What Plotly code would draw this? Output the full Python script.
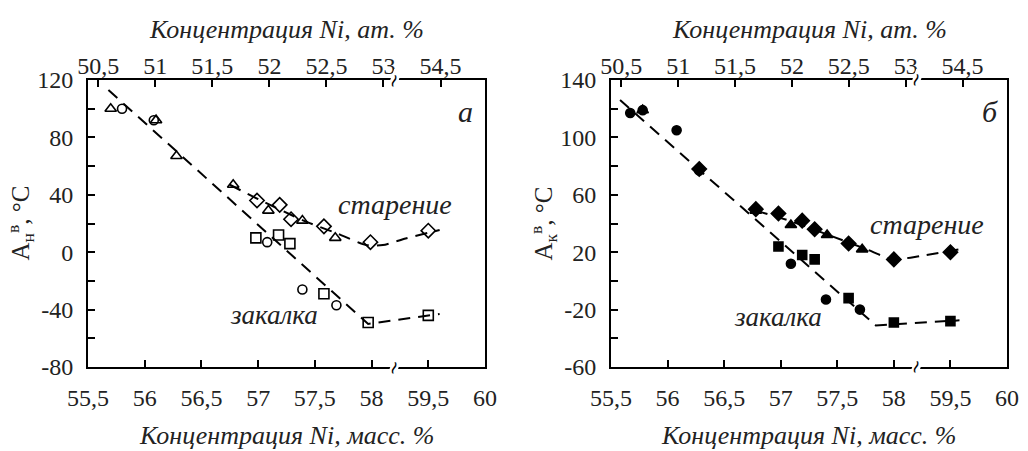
import plotly.graph_objects as go

# ---------------- data (mass-% Ni, temperature °C) ----------------
# panel а (open symbols)
a_age_tri_x = [55.70, 56.10, 56.28, 56.78, 57.09, 57.39, 57.68]
a_age_tri_y = [100, 92, 67, 47, 29, 22, 10]
a_age_dia_x = [56.99, 57.19, 57.29, 57.58, 57.99, 59.50]
a_age_dia_y = [36, 33, 23, 18, 7, 15]
a_q_cir_x = [55.80, 56.08, 57.08, 57.39, 57.69]
a_q_cir_y = [100, 92, 7, -26, -37]
a_q_sq_x = [56.98, 57.18, 57.28, 57.58, 57.97, 59.50]
a_q_sq_y = [10, 12, 6, -29, -49, -44]
a_q_fit_x = [55.68, 57.97, 59.60]
a_q_fit_y = [113, -50, -43]
a_age_fit_x = [56.75, 57.00, 57.40, 57.70, 57.95, 58.10, 59.30, 59.60]
a_age_fit_y = [47, 37, 22, 13, 5, 5, 9.5, 15.5]

# panel б (filled symbols)
b_age_dia_x = [56.28, 56.78, 56.98, 57.19, 57.30, 57.60, 58.00, 59.50]
b_age_dia_y = [78, 50, 47, 42, 36, 26, 15, 20]
b_age_tri_x = [55.78, 56.78, 57.09, 57.41, 57.72]
b_age_tri_y = [119, 49, 39, 32, 22]
b_q_cir_x = [55.67, 55.78, 56.08, 56.28, 57.09, 57.40, 57.70]
b_q_cir_y = [117, 119, 105, 77, 12, -13, -20]
b_q_sq_x = [56.98, 57.19, 57.30, 57.60, 58.00, 59.50]
b_q_sq_y = [24, 18, 15, -12, -29, -28]
b_q_fit_x = [55.58, 57.84, 59.58]
b_q_fit_y = [126, -31, -27.5]
b_age_fit_x = [56.78, 57.09, 57.41, 57.76, 57.99, 59.23, 59.58]
b_age_fit_y = [49, 41.6, 32.4, 22, 15, 17.3, 22]

# axis ticks
mass_ticks = [55.5, 56, 56.5, 57, 57.5, 58, 59.5, 60]
mass_labels = ["55,5", "56", "56,5", "57", "57,5", "58", "59,5", "60"]
at_ticks = [50.5, 51, 51.5, 52, 52.5, 53, 54.5]
at_labels = ["50,5", "51", "51,5", "52", "52,5", "53", "54,5"]
ya_ticks = list(range(-80, 121, 20))
yb_ticks = list(range(-60, 141, 20))

# broken axis: values above the break are shifted left
MASS_BREAK, MASS_SHIFT = 58.2, 1.0
AT_BREAK, AT_SHIFT = 53.3, 1.0


def xm(vals):
    return [v if v <= MASS_BREAK else v - MASS_SHIFT for v in vals]


def xa(vals):
    return [v if v <= AT_BREAK else v - AT_SHIFT for v in vals]


FONT = "Liberation Serif"
W, H = 1028, 451
dash = "12px,8px"

fig = go.Figure()


def add_panel(xref, yref, fits, series):
    for fx, fy, shape in fits:
        fig.add_trace(go.Scatter(x=xm(fx), y=fy, mode="lines", xaxis=xref, yaxis=yref,
                                 line=dict(color="black", width=2, dash=dash, shape=shape,
                                           smoothing=0.6),
                                 showlegend=False, hoverinfo="skip"))
    for sx, sy, sym, size in series:
        fig.add_trace(go.Scatter(x=xm(sx), y=sy, mode="markers", xaxis=xref, yaxis=yref,
                                 marker=dict(symbol=sym, size=size, color="black",
                                             line=dict(color="black", width=1.6)),
                                 showlegend=False))


add_panel("x", "y",
          [(a_q_fit_x, a_q_fit_y, "linear"), (a_age_fit_x, a_age_fit_y, "spline")],
          [(a_age_tri_x, a_age_tri_y, "triangle-up-open", 10),
           (a_age_dia_x, a_age_dia_y, "diamond-open", 11),
           (a_q_cir_x, a_q_cir_y, "circle-open", 9),
           (a_q_sq_x, a_q_sq_y, "square-open", 10)])
add_panel("x2", "y2",
          [(b_q_fit_x, b_q_fit_y, "linear"), (b_age_fit_x, b_age_fit_y, "spline")],
          [(b_age_tri_x, b_age_tri_y, "triangle-up", 10),
           (b_age_dia_x, b_age_dia_y, "diamond", 11),
           (b_q_cir_x, b_q_cir_y, "circle", 9),
           (b_q_sq_x, b_q_sq_y, "square", 9)])

# empty traces so the top axes exist
fig.add_trace(go.Scatter(x=[], y=[], xaxis="x3", yaxis="y", showlegend=False))
fig.add_trace(go.Scatter(x=[], y=[], xaxis="x4", yaxis="y2", showlegend=False))

ydom = [1 - 367 / H, 1 - 80 / H]
dom_a = [88 / W, 485 / W]
dom_b = [611 / W, 1007 / W]

tickfont = dict(family=FONT, size=24, color="#222")
common_x = dict(range=[55.5, 59.0], tickvals=xm(mass_ticks), ticktext=mass_labels,
                ticks="inside", ticklen=7, tickwidth=1.5, tickcolor="black",
                showline=True, linewidth=2, linecolor="black", mirror=True,
                showgrid=False, zeroline=False, tickfont=tickfont, ticklabelstandoff=8,
                automargin=False)
common_top = dict(range=[50.41, 53.89], tickvals=xa(at_ticks), ticktext=at_labels,
                  ticks="inside", ticklen=7, tickwidth=1.5, tickcolor="black",
                  side="top", showline=False, showgrid=False, zeroline=False,
                  tickfont=tickfont, ticklabelstandoff=0, automargin=False)


def ycfg(ticks, labels_every, dom, anchor):
    return dict(domain=dom, range=[ticks[0], ticks[-1]], tickvals=ticks,
                ticktext=[str(t) if (t - ticks[0]) % labels_every == 0 else "" for t in ticks],
                ticks="inside", ticklen=7, tickwidth=1.5, tickcolor="black",
                showline=True, linewidth=2, linecolor="black", mirror=True,
                showgrid=False, zeroline=False, tickfont=tickfont, anchor=anchor,
                ticklabelstandoff=8, automargin=False)


fig.update_layout(
    width=W, height=H, margin=dict(l=0, r=0, t=0, b=0, autoexpand=False),
    paper_bgcolor="white", plot_bgcolor="white",
    font=dict(family=FONT, size=24, color="#222"),
    xaxis=dict(domain=dom_a, anchor="y", **common_x),
    xaxis2=dict(domain=dom_b, anchor="y2", **common_x),
    xaxis3=dict(overlaying="x", anchor="y", **common_top),
    xaxis4=dict(overlaying="x2", anchor="y2", **common_top),
    yaxis=ycfg(ya_ticks, 40, ydom, "x"),
    yaxis2=ycfg(yb_ticks, 40, ydom, "x2"),
)

ann = []
for dom, xr, ylab in [(dom_a, "x", "A<sub>н</sub><sup>в</sup>, °C"),
                      (dom_b, "x2", "A<sub>к</sub><sup>в</sup>, °C")]:
    cx = (dom[0] + dom[1]) / 2
    ann.append(dict(text="<i>Концентрация Ni, масс. %</i>", xref="paper", yref="paper",
                    x=cx, y=1 - 435 / H, xanchor="center", yanchor="middle",
                    showarrow=False, font=dict(size=26)))
    ann.append(dict(text="<i>Концентрация Ni, ат. %</i>", xref="paper", yref="paper",
                    x=cx, y=1 - 29 / H, xanchor="center", yanchor="middle",
                    showarrow=False, font=dict(size=26)))
    ann.append(dict(text=ylab, xref="paper", yref="paper", x=(dom[0] * W - 68) / W,
                    y=(ydom[0] + ydom[1]) / 2, xanchor="center", yanchor="middle",
                    textangle=-90, showarrow=False, font=dict(size=25)))
    for yy in ydom:
        ann.append(dict(text="≀", xref=xr, yref="paper", x=MASS_BREAK, y=yy,
                        xanchor="center", yanchor="middle", textangle=20,
                        showarrow=False, font=dict(size=18, color="black"),
                        bgcolor="white", borderpad=0))

ann += [
    dict(text="<i>а</i>", xref="x", yref="y", x=58.83, y=98, showarrow=False, font=dict(size=30)),
    dict(text="<i>б</i>", xref="x2", yref="y2", x=58.85, y=118, showarrow=False, font=dict(size=30)),
    dict(text="<i>старение</i>", xref="x", yref="y", x=58.21, y=33, showarrow=False, font=dict(size=28)),
    dict(text="<i>закалка</i>", xref="x", yref="y", x=57.14, y=-44, showarrow=False, font=dict(size=27)),
    dict(text="<i>старение</i>", xref="x2", yref="y2", x=58.29, y=39, showarrow=False, font=dict(size=28)),
    dict(text="<i>закалка</i>", xref="x2", yref="y2", x=56.98, y=-25, showarrow=False, font=dict(size=27)),
]
fig.update_layout(annotations=ann)

fig.write_html("out.html")
